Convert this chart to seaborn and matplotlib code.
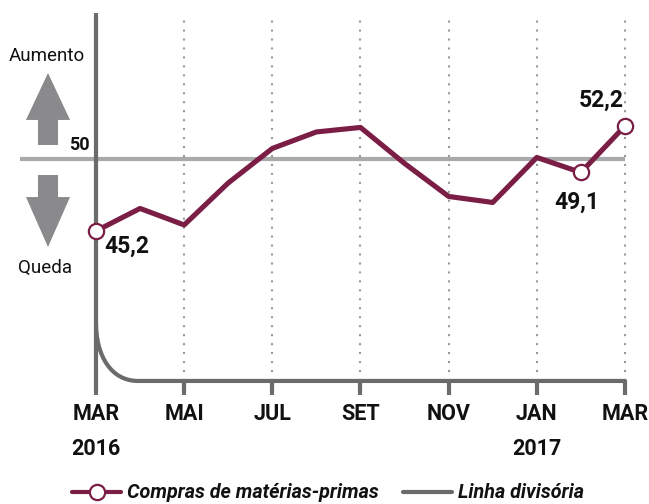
import numpy as np
import matplotlib.pyplot as plt
import seaborn as sb
from matplotlib.lines import Line2D
from matplotlib.path import Path
from matplotlib.patches import PathPatch

months = ['MAR', 'ABR', 'MAI', 'JUN', 'JUL', 'AGO', 'SET',
          'OUT', 'NOV', 'DEZ', 'JAN', 'FEV', 'MAR']
values = [45.2, 46.7, 45.6, 48.4, 50.7, 51.8, 52.1,
          49.7, 47.5, 47.1, 50.1, 49.1, 52.2]
tick_labels = ['MAR\n2016', 'MAI', 'JUL', 'SET', 'NOV', 'JAN\n2017', 'MAR']
labelled = {0: '45,2', 11: '49,1', 12: '52,2'}
reference = 50

sb.set_style('white')
plt.rcParams['font.family'] = ['Roboto', 'DejaVu Sans']
plt.rcParams['text.color'] = '#111111'
plt.rcParams['xtick.color'] = '#111111'

wine = '#7b1e45'
axis_grey = '#6b6b6d'
line_grey = '#a9a9ab'
arrow_grey = '#8a8a8c'

fig = plt.figure(figsize=(6.49, 5.04), dpi=100)
ax = fig.add_axes([10 / 649, 1 - 400 / 504, 630 / 649, 390 / 504])
ax.set_xlim(-86 / 44.08, 630 / 44.08 - 86 / 44.08)
ax.set_ylim(33.93, 59.93)
sb.despine(ax=ax, left=True, bottom=True)

x = np.arange(len(values))

# dotted guides + ticks
for t in range(2, 13, 2):
    ax.plot([t, t], [35.8, 59.6], color='#9a9a9a', lw=1.5,
            ls=(0, (1, 3.3)), zorder=1)
    ax.plot([t, t], [34.27, 35.25], color=axis_grey, lw=3, zorder=2,
            solid_capstyle='butt')

# vertical axis and curved dividing line
ax.plot([0, 0], [34.27, 59.73], color=axis_grey, lw=3, zorder=3,
        solid_capstyle='butt')
curve = Path([(0, 39.1), (0, 36.8), (0.36, 35.2), (0.95, 35.2), (12.03, 35.2)],
             [Path.MOVETO, Path.CURVE4, Path.CURVE4, Path.CURVE4, Path.LINETO])
ax.add_patch(PathPatch(curve, fill=False, edgecolor=axis_grey, lw=3,
                       zorder=2, capstyle='butt'))

# reference line at 50
ax.plot([-1.724, 12.0], [reference, reference], color=line_grey, lw=3,
        zorder=2, solid_capstyle='butt')

# series
sb.lineplot(x=x, y=values, color=wine, lw=3.7, ax=ax, zorder=5)
ax.plot(x[list(labelled)], np.array(values)[list(labelled)], 'o', ms=11,
        mfc='white', mec=wine, mew=1.6, zorder=6, clip_on=False)

# arrows
ax.arrow(-1.089, 50.93, 0, 4.8, width=0.454, head_width=1.0,
         head_length=3.13, length_includes_head=True, color=arrow_grey,
         lw=0, zorder=2)
ax.arrow(-1.089, 48.93, 0, -4.8, width=0.454, head_width=1.0,
         head_length=3.33, length_includes_head=True, color=arrow_grey,
         lw=0, zorder=2)

ax.text(-1.11, 56.85, 'Aumento', ha='center', va='center', fontsize=13.5)
ax.text(-1.157, 42.75, 'Queda', ha='center', va='center', fontsize=13.5)
ax.text(-0.386, 50.95, '50', ha='center', va='center', fontsize=13,
        fontweight='bold')

ax.text(0.18, 44.2, labelled[0], ha='left', va='center', fontsize=16.5,
        fontweight='bold')
ax.text(10.91, 47.1, labelled[11], ha='center', va='center', fontsize=16.5,
        fontweight='bold')
ax.text(11.46, 53.9, labelled[12], ha='center', va='center', fontsize=16.5,
        fontweight='bold')

ax.set_yticks([])
ax.set_xticks(range(0, 13, 2))
ax.set_xticklabels(tick_labels, fontsize=15.5, fontweight='bold')
plt.setp(ax.get_xticklabels(), linespacing=1.75)
ax.tick_params(axis='x', length=0, pad=2)
ax.set_xlabel('')

handles = [Line2D([], [], color=wine, lw=3, marker='o', ms=11, mfc='white',
                  mec=wine, mew=1.6),
           Line2D([], [], color=axis_grey, lw=3)]
fig.legend(handles, ['Compras de matérias-primas', 'Linha divisória'],
           loc='center left', bbox_to_anchor=(72 / 649, 1 - 493 / 504),
           ncol=2, frameon=False, handlelength=2.5, handletextpad=0.3,
           columnspacing=1.2, borderpad=0, borderaxespad=0,
           prop={'style': 'italic', 'weight': 'bold', 'size': 14.2})

plt.savefig('out.png', dpi=100)
